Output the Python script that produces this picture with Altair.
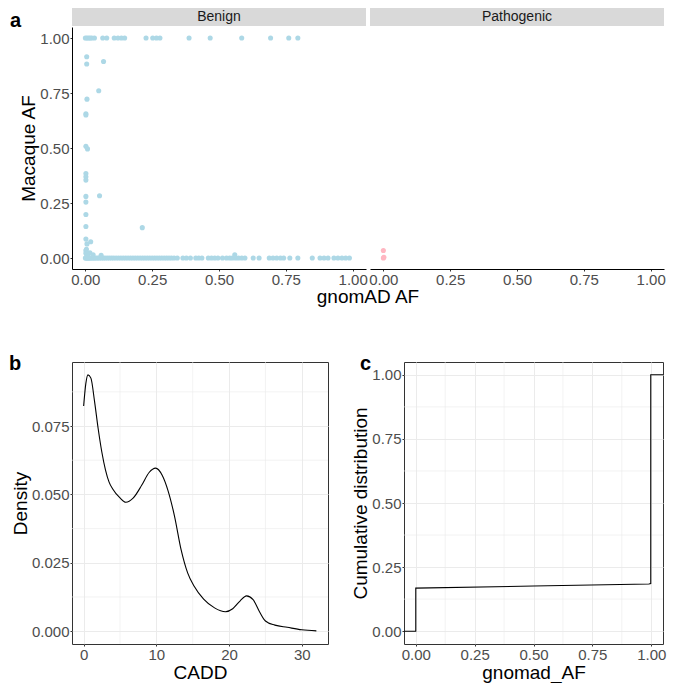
import altair as alt
import pandas as pd

FONT = "Liberation Sans"

# ---------------- data ----------------
# panel a, Benign: points on the Macaque AF = 1 row
benign_top_x = [0.0, 0.006, 0.012, 0.018, 0.024, 0.034, 0.065, 0.08, 0.108, 0.122, 0.135, 0.147,
                0.227, 0.252, 0.266, 0.279, 0.388, 0.467, 0.585, 0.693, 0.761, 0.795]
# panel a, Benign: points on the Macaque AF = 0 row
benign_zero_x = [0.0, 0.003, 0.006, 0.009, 0.012, 0.016, 0.02, 0.025, 0.03, 0.035, 0.041, 0.047,
                 0.053, 0.06, 0.067, 0.074, 0.082, 0.09, 0.098, 0.106, 0.115, 0.124, 0.133, 0.142,
                 0.151, 0.16, 0.169, 0.178, 0.187, 0.196, 0.205, 0.214, 0.223, 0.232, 0.241, 0.25,
                 0.259, 0.268, 0.277, 0.286, 0.295, 0.304, 0.313, 0.322, 0.332, 0.344, 0.365, 0.378,
                 0.393, 0.413, 0.424, 0.436, 0.46, 0.472, 0.484, 0.496, 0.513, 0.528, 0.54, 0.55,
                 0.562, 0.573, 0.585, 0.597, 0.628, 0.65, 0.688, 0.702, 0.716, 0.73, 0.742, 0.765,
                 0.795, 0.849, 0.878, 0.893, 0.908, 0.93, 0.945, 0.96, 0.974, 0.988]
# panel a, Benign: remaining points
benign_other_x = [0.005, 0.005, 0.068, 0.05, 0.006, 0.002, 0.002, 0.002, 0.008, 0.002, 0.002, 0.002,
                  0.002, 0.053, 0.002, 0.002, 0.002, 0.213, 0.002, 0.02, 0.006, 0.002, 0.017, 0.002,
                  0.029, 0.059, 0.005, 0.559, 0.01, 0.004]
benign_other_y = [0.915, 0.882, 0.893, 0.760, 0.722, 0.656, 0.650, 0.508, 0.496, 0.384, 0.369, 0.354,
                  0.280, 0.283, 0.254, 0.198, 0.143, 0.138, 0.086, 0.074, 0.064, 0.034, 0.024, 0.022,
                  0.015, 0.012, 0.010, 0.015, 0.005, 0.040]
# panel a, Pathogenic
patho_x = [0.0, 0.0, 0.002]
patho_y = [0.034, 0.0, 0.003]

# panel b: CADD density curve
cadd_x = [0.0, 0.3, 0.6, 1.0, 1.5, 2.0, 2.5, 3.0, 3.5, 4.0, 5.0, 5.8, 6.8, 8.0, 9.0, 9.9, 10.8,
          11.6, 12.5, 13.4, 14.3, 15.2, 16.5, 18.0, 19.5, 20.5, 21.5, 22.4, 23.3, 24.2, 25.0,
          26.3, 28.0, 30.0, 32.0]
cadd_density = [0.0823, 0.0905, 0.0937, 0.0925, 0.0840, 0.0740, 0.0655, 0.0590, 0.0545, 0.0520,
                0.0487, 0.0471, 0.0486, 0.0534, 0.0580, 0.0596, 0.0570, 0.0514, 0.0420, 0.0298,
                0.0213, 0.0164, 0.0117, 0.0085, 0.0071, 0.0082, 0.0110, 0.0129, 0.0115, 0.0070,
                0.0037, 0.0022, 0.0014, 0.0005, 0.0001]

# panel c: ECDF of gnomad_AF
ecdf_x = [-0.05, 0.0, 0.0, 0.5, 0.99, 0.998, 0.998, 1.05]
ecdf_y = [0.0, 0.0, 0.168, 0.176, 0.184, 0.186, 1.0, 1.0]

af_ticks = [0.0, 0.25, 0.5, 0.75, 1.0]
af_minor = [0.125, 0.375, 0.625, 0.875]
cadd_ticks = [0, 10, 20, 30]
cadd_minor = [5, 15, 25]
dens_ticks = [0.0, 0.025, 0.05, 0.075]
dens_minor = [0.0125, 0.0375, 0.0625, 0.0875]


# ---------------- helpers ----------------
def axis(values, fmt, title="", domain=False, grid=False):
    return alt.Axis(values=values, format=fmt, title=title, domain=domain, grid=grid,
                    labelFont=FONT, labelFontSize=15, labelColor="#4D4D4D",
                    titleFont=FONT, titleFontSize=19, titleColor="#000000", titleFontWeight="normal",
                    tickColor="#333333", tickSize=2, tickWidth=1, labelPadding=1, titlePadding=1,
                    domainColor="#000000", domainWidth=1, gridColor="#EBEBEB", gridWidth=1)


def letter(txt, dx, dy):
    return alt.Chart(pd.DataFrame({"t": [txt]})).mark_text(
        font=FONT, fontSize=20, fontWeight="bold", align="left", baseline="top", color="#000000"
    ).encode(text="t:N", x=alt.value(dx), y=alt.value(dy))


def strip(label, w):
    d = pd.DataFrame({"t": [label]})
    r = alt.Chart(d).mark_rect(color="#D9D9D9").encode(
        x=alt.value(0), x2=alt.value(w), y=alt.value(-19), y2=alt.value(-1))
    t = alt.Chart(d).mark_text(font=FONT, fontSize=14, color="#1A1A1A", baseline="middle",
                               align="center").encode(text="t:N", x=alt.value(w / 2), y=alt.value(-10))
    return [r, t]


AW, AH = 294, 242
af_scale = alt.Scale(domain=[-0.05, 1.05], nice=False, zero=False)
no_frame = alt.ViewBackground(strokeWidth=0, stroke="transparent")
frame = alt.ViewBackground(stroke="#333333", strokeWidth=1)

# ---------------- panel a ----------------
bx = benign_top_x + benign_zero_x + benign_other_x
by = [1.0] * len(benign_top_x) + [0.0] * len(benign_zero_x) + benign_other_y
dfb = pd.DataFrame({"gx": bx, "my": by})
dfp = pd.DataFrame({"gx": patho_x, "my": patho_y})

benign_pts = alt.Chart(dfb).mark_circle(size=26, color="#ADD8E6", opacity=1).encode(
    x=alt.X("gx:Q", scale=af_scale, axis=axis(af_ticks, ".2f", domain=True)),
    y=alt.Y("my:Q", scale=af_scale, axis=axis(af_ticks, ".2f", title="Macaque AF", domain=True)),
)
xtitle = alt.Chart(pd.DataFrame({"t": ["gnomAD AF"]})).mark_text(
    font=FONT, fontSize=19, color="#000000", align="center", baseline="top"
).encode(text="t:N", x=alt.value(AW + 2), y=alt.value(AH + 19))

benign = alt.layer(*strip("Benign", AW), benign_pts, xtitle, letter("a", -62, -16)).properties(
    width=AW, height=AH, view=no_frame)

patho_pts = alt.Chart(dfp).mark_circle(size=26, color="#FFB6C1", opacity=1).encode(
    x=alt.X("gx:Q", scale=af_scale, axis=axis(af_ticks, ".2f", domain=True)),
    y=alt.Y("my:Q", scale=af_scale, axis=None),
)
patho = alt.layer(*strip("Pathogenic", AW), patho_pts).properties(width=AW, height=AH, view=no_frame)

row_a = alt.hconcat(benign, patho, spacing=4, bounds="flush")

# ---------------- panel b ----------------
BW, BH = 256, 282
cadd_scale = alt.Scale(domain=[-1.6, 33.6], nice=False, zero=False)
dens_scale = alt.Scale(domain=[-0.0047, 0.0984], nice=False, zero=False)
bxa = axis(cadd_ticks, "d", title="CADD", grid=True)
bya = axis(dens_ticks, ".3f", title="Density", grid=True)

dfd = pd.DataFrame({"cadd": cadd_x, "dens": cadd_density})
b_minor_x = alt.Chart(pd.DataFrame({"cadd": cadd_minor})).mark_rule(color="#EBEBEB", strokeWidth=0.6).encode(
    x=alt.X("cadd:Q", scale=cadd_scale, axis=bxa))
b_minor_y = alt.Chart(pd.DataFrame({"dens": dens_minor})).mark_rule(color="#EBEBEB", strokeWidth=0.6).encode(
    y=alt.Y("dens:Q", scale=dens_scale, axis=bya))
b_line = alt.Chart(dfd).mark_line(color="#000000", strokeWidth=1.1, interpolate="monotone").encode(
    x=alt.X("cadd:Q", scale=cadd_scale, axis=bxa),
    y=alt.Y("dens:Q", scale=dens_scale, axis=bya),
)
panel_b = alt.layer(b_minor_x, b_minor_y, b_line, letter("b", -63, -8.3)).properties(
    width=BW, height=BH, view=frame)

# ---------------- panel c ----------------
CW, CH = 259, 282
cxa = axis(af_ticks, ".2f", title="gnomad_AF", grid=True)
cya = axis(af_ticks, ".2f", title="Cumulative distribution", grid=True)
dfe = pd.DataFrame({"af": ecdf_x, "cd": ecdf_y, "i": list(range(len(ecdf_x)))})
c_minor_x = alt.Chart(pd.DataFrame({"af": af_minor})).mark_rule(color="#EBEBEB", strokeWidth=0.6).encode(
    x=alt.X("af:Q", scale=af_scale, axis=cxa))
c_minor_y = alt.Chart(pd.DataFrame({"cd": af_minor})).mark_rule(color="#EBEBEB", strokeWidth=0.6).encode(
    y=alt.Y("cd:Q", scale=af_scale, axis=cya))
c_line = alt.Chart(dfe).mark_line(color="#000000", strokeWidth=1.1).encode(
    x=alt.X("af:Q", scale=af_scale, axis=cxa),
    y=alt.Y("cd:Q", scale=af_scale, axis=cya),
    order="i:Q",
)
panel_c = alt.layer(c_minor_x, c_minor_y, c_line, letter("c", -44, -8)).properties(
    width=CW, height=CH, view=frame)

row_b = alt.hconcat(panel_b, panel_c, spacing=22)

chart = alt.ConcatChart(
    concat=[row_a, row_b], columns=1, spacing=46, align="none",
    padding={"left": 0, "top": 0, "right": 0, "bottom": 0},
    autosize=alt.AutoSizeParams(type="pad"),
).configure_view(strokeWidth=0).configure(font=FONT, padding=0)

chart.save("out.html", embed_options={"renderer": "svg", "actions": False})
